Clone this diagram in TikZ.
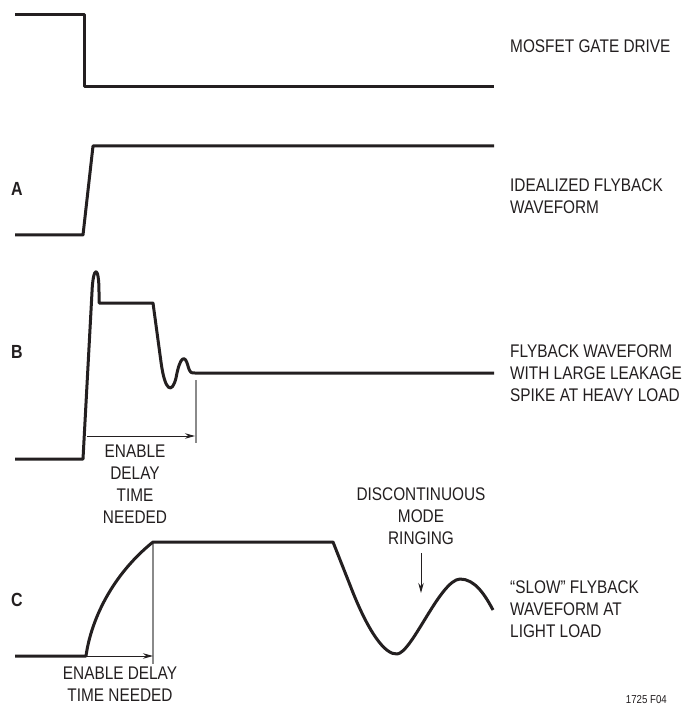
\documentclass[tikz,border=0pt]{standalone}
\usepackage{fontspec}
\setmainfont{Liberation Sans}[FakeStretch=0.84]
\usetikzlibrary{arrows.meta}
\definecolor{ink}{HTML}{231F20}
\definecolor{guide}{HTML}{8A8A8A}
\begin{document}
\begin{tikzpicture}[x=1pt,y=-1pt,
  wave/.style={draw=ink,line width=3pt,line join=round,line cap=butt},
  guideline/.style={draw=guide,line width=1.4pt},
  delayarrow/.style={draw=ink,line width=1pt,-{Stealth[length=10pt,width=5.5pt]}},
  lbl/.style={text=ink,inner sep=0pt,align=left,anchor=west,font=\fontsize{18.3}{22}\selectfont},
  clbl/.style={text=ink,inner sep=0pt,align=center,font=\fontsize{18.3}{22}\selectfont},
  tag/.style={text=ink,inner sep=0pt,font=\bfseries\fontsize{19}{22}\selectfont}]
\useasboundingbox (0,0) rectangle (684,708);
\fill[white] (0,0) rectangle (684,708);

% gate drive
\draw[wave] (15,15) -- (84,15) -- (84,87) -- (494,87);
\node[lbl] (tgate) at (510,46) {MOSFET GATE DRIVE};

% A
\node[tag] (tA) at (17,189) {A};
\draw[wave] (15,235) -- (83,235) -- (93,146) -- (494,146);
\node[lbl] (tA2) at (510,196) {IDEALIZED FLYBACK\\WAVEFORM};

% B
\node[tag] (tB) at (17,352) {B};
\draw[wave] (15,459) -- (83,459) -- (92,292)
  .. controls (93,266) and (99,264) .. (99,292) -- (99,303) -- (153,303)
  -- (161,362) .. controls (165,392) and (172,394) .. (176,378)
  .. controls (180,356) and (185,354) .. (188,366)
  .. controls (190,373) and (191,373) .. (195,373) -- (494,373);
\node[lbl] (tB2) at (510,373) {FLYBACK WAVEFORM\\WITH LARGE LEAKAGE\\SPIKE AT HEAVY LOAD};
\coordinate (bs) at (87,436);
\coordinate (be) at (195,436);
\coordinate (bgt) at (196,380);
\coordinate (bgb) at (196,443);
\draw[guideline] (bgt) -- (bgb);
\draw[delayarrow] (bs) -- (be);
\node[clbl,anchor=north] (tBd) at (135,445) {ENABLE\\DELAY\\TIME\\NEEDED};

% C
\node[tag] (tC) at (17,600) {C};
\coordinate (cgt) at (153,542);
\coordinate (cgb) at (153,664);
\draw[guideline] (cgt) -- (cgb);
\draw[wave] (15,656) -- (86,656) .. controls (91,620) and (112,575) .. (153,542) -- (333,542)
  -- (350,585) .. controls (368,632) and (385,655) .. (397,654)
  .. controls (412,653) and (440,580) .. (460,579)
  .. controls (475,579) and (485,595) .. (493,610);
\coordinate (cs) at (87,656);
\coordinate (ce) at (153,656);
\draw[delayarrow] (cs) -- (ce);
\node[clbl,anchor=north] (tCd) at (120,667) {ENABLE DELAY\\TIME NEEDED};
\node[clbl,anchor=south] (tring) at (421,545) {DISCONTINUOUS\\MODE\\RINGING};
\coordinate (rs) at (421,553);
\coordinate (re) at (421,593);
\draw[delayarrow] (rs) -- (re);
\node[lbl] (tC2) at (510,609) {\textquotedblleft SLOW\textquotedblright{} FLYBACK\\WAVEFORM AT\\LIGHT LOAD};
\node[text=ink,inner sep=0pt,anchor=east,font=\fontsize{11.5}{13}\selectfont] (fig) at (667,700) {1725 F04};
\end{tikzpicture}
\end{document}
